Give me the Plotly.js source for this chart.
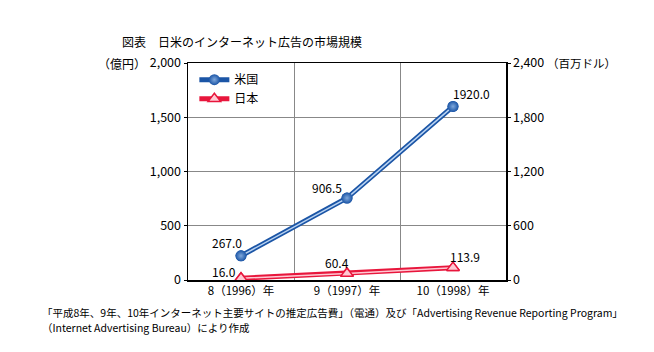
<!DOCTYPE html>
<html><head><meta charset="utf-8">
<script src="https://cdn.plot.ly/plotly-3.0.1.min.js"></script>
<style>html,body{margin:0;padding:0;background:#fff;}</style>
</head><body><div id="chart" style="width:654px;height:352px;"></div>
<script>
const categories = ['8（1996）年', '9（1997）年', '10（1998）年'];
const usValues = [267.0, 906.5, 1920.0];   // 百万ドル (right axis)
const jpValues = [16.0, 60.4, 113.9];      // 億円 (left axis)
const leftTicks = [0, 500, 1000, 1500, 2000];
const rightTicks = [0, 600, 1200, 1800, 2400];

const FONT = '"Noto Sans CJK JP", "Noto Sans", sans-serif';
const L = 188, R = 506, T = 63, B = 280;
const px = x => (x - L) / (R - L);
const py = y => (B - y) / (B - T);

const usDark = '#1b55a6', usLight = '#b9d3f2';
const jpDark = '#e8163c', jpLight = '#ffc9d3';

const traces = [
  {x: categories, y: usValues, yaxis: 'y2', name: '米国', mode: 'lines+markers',
   line: {color: usDark, width: 5}, marker: {symbol: 'circle', size: 11, color: usDark,
   gradient: {type: 'radial', color: '#7fa8dc'}, line: {width: 0}}, showlegend: true},
  {x: categories, y: usValues, yaxis: 'y2', mode: 'lines', line: {color: usLight, width: 1.5},
   showlegend: false, hoverinfo: 'skip'},
  {x: categories, y: usValues, yaxis: 'y2', mode: 'markers', marker: {symbol: 'circle', size: 11, color: usDark,
   gradient: {type: 'radial', color: '#7fa8dc'}, line: {width: 0}}, showlegend: false},
  {x: categories, y: jpValues, yaxis: 'y', name: '日本', mode: 'lines+markers',
   line: {color: jpDark, width: 5}, marker: {symbol: 'triangle-up', size: 11, color: jpLight,
   line: {color: jpDark, width: 1.5}}, showlegend: true},
  {x: categories, y: jpValues, yaxis: 'y', mode: 'lines', line: {color: jpLight, width: 1.5},
   showlegend: false, hoverinfo: 'skip'},
  {x: categories, y: jpValues, yaxis: 'y', mode: 'markers', marker: {symbol: 'triangle-up', size: 11, color: jpLight,
   line: {color: jpDark, width: 1.5}}, showlegend: false}
];

const usShift = [[-14, 13], [-20, 11], [18, 13]];
const jpShift = [[-17, 7], [-10, 11], [12, 11]];
const annotations = [];
usValues.forEach((v, i) => annotations.push({x: categories[i], y: v, xref: 'x', yref: 'y2', text: v.toFixed(1),
  showarrow: false, xshift: usShift[i][0], yshift: usShift[i][1], font: {family: FONT, size: 12, color: '#000'}}));
jpValues.forEach((v, i) => annotations.push({x: categories[i], y: v, xref: 'x', yref: 'y', text: v.toFixed(1),
  showarrow: false, xshift: jpShift[i][0], yshift: jpShift[i][1], font: {family: FONT, size: 12, color: '#000'}}));

annotations.push({xref: 'paper', yref: 'paper', x: px(148), y: 1, xanchor: 'right', yanchor: 'middle',
  text: '（億円）', showarrow: false, font: {family: FONT, size: 12, color: '#000'}});
annotations.push({xref: 'paper', yref: 'paper', x: px(545), y: 1, xanchor: 'left', yanchor: 'middle',
  text: '（百万ドル）', showarrow: false, font: {family: FONT, size: 11.5, color: '#000'}});
annotations.push({xref: 'paper', yref: 'paper', x: px(120), y: py(41), xanchor: 'left', yanchor: 'middle',
  text: '図表　日米のインターネット広告の市場規模', showarrow: false, font: {family: FONT, size: 12, color: '#000'}});
annotations.push({xref: 'paper', yref: 'paper', x: px(40), y: py(312), xanchor: 'left', yanchor: 'middle',
  text: '「平成8年、9年、10年インターネット主要サイトの推定広告費」（電通）及び「Advertising Revenue Reporting Program」',
  showarrow: false, font: {family: FONT, size: 10.5, color: '#000'}});
annotations.push({xref: 'paper', yref: 'paper', x: px(40), y: py(327), xanchor: 'left', yanchor: 'middle',
  text: '（Internet Advertising Bureau）により作成',
  showarrow: false, font: {family: FONT, size: 10.5, color: '#000'}});

const layout = {
  width: 654, height: 352,
  margin: {l: L, r: 654 - R, t: T, b: 352 - B, pad: 0},
  paper_bgcolor: '#fff', plot_bgcolor: '#fff',
  font: {family: FONT, size: 12, color: '#000'},
  showlegend: true,
  legend: {x: 0.02, y: 0.99, xanchor: 'left', yanchor: 'top', bgcolor: 'rgba(0,0,0,0)',
    font: {family: FONT, size: 12}, tracegroupgap: 0, itemwidth: 30},
  xaxis: {type: 'category', range: [-0.5, 2.5], tickson: 'boundaries', showgrid: true, gridcolor: '#888', gridwidth: 1,
    ticks: '', showline: true, linecolor: '#000', linewidth: 1.5, mirror: true, zeroline: false,
    tickfont: {family: FONT, size: 11.5}, fixedrange: true},
  yaxis: {range: [0, 2000], tickvals: leftTicks, tickformat: ',', showgrid: true, gridcolor: '#888', gridwidth: 1,
    ticks: 'outside', ticklen: 3, tickcolor: '#000', showline: true, linecolor: '#000', linewidth: 1.5, mirror: false,
    zeroline: false, tickfont: {family: FONT, size: 12.5}},
  yaxis2: {range: [0, 2400], tickvals: rightTicks, tickformat: ',', overlaying: 'y', side: 'right', showgrid: false,
    ticks: 'outside', ticklen: 3, tickcolor: '#000', showline: true, linecolor: '#000', linewidth: 1.5,
    zeroline: false, tickfont: {family: FONT, size: 12.5}},
  annotations: annotations
};

Plotly.newPlot('chart', traces, layout, {displayModeBar: false, staticPlot: true});
</script></body></html>
